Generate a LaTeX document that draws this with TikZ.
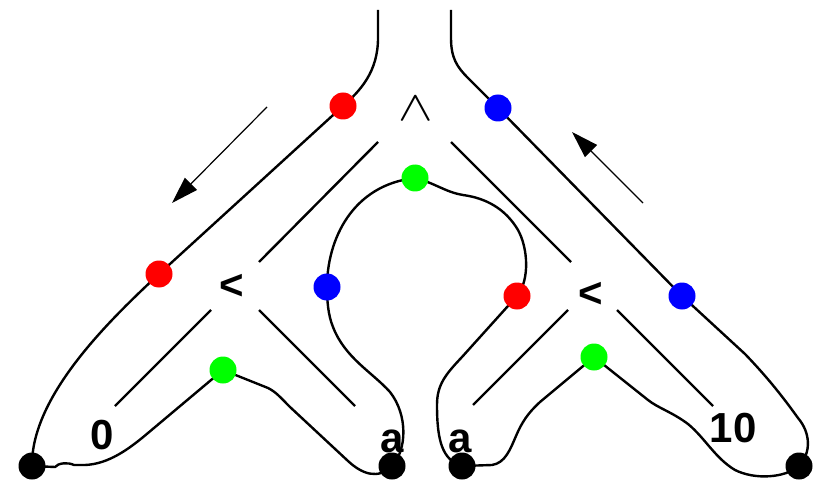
\documentclass[tikz,border=0pt]{standalone}
\usepackage{unicode-math}
\setmainfont{Liberation Sans}
\usetikzlibrary{arrows.meta}
\pgfdeclarelayer{back}
\pgfsetlayers{back,main}
\tikzset{
  wire/.style={line width=2.4pt, line join=round},
  dot/.style={circle, inner sep=0pt, minimum size=27pt, fill=#1},
  lbl/.style={font=\fontsize{42}{42}\selectfont\bfseries, inner sep=0pt},
  flow/.style={line width=1.2pt, -{Triangle[length=27pt,width=17pt]}}
}
\definecolor{dred}{RGB}{255,0,0}
\definecolor{dgreen}{RGB}{0,255,0}
\definecolor{dblue}{RGB}{0,0,255}
\begin{document}
\begin{tikzpicture}[x=1pt,y=-1pt]
\useasboundingbox (0,0) rectangle (816,481);

% open ends at the top
\coordinate (topL) at (378,10);
\coordinate (topR) at (451,10);

% markers along the curve
\node[dot=dred]   (r1) at (343,106) {};
\node[dot=dred]   (r2) at (159,274) {};
\node[dot=dred]   (r3) at (517,296) {};
\node[dot=dblue]  (b1) at (327,287) {};
\node[dot=dblue]  (b2) at (682,296) {};
\node[dot=dblue]  (b3) at (498,108) {};
\node[dot=dgreen] (g1) at (223,370) {};
\node[dot=dgreen] (g2) at (415,178) {};
\node[dot=dgreen] (g3) at (594,357) {};
\node[dot=black]  (k1) at (32,466) {};
\node[dot=black]  (k2) at (392,466) {};
\node[dot=black]  (k3) at (462,466) {};
\node[dot=black]  (k4) at (799,466) {};

\begin{pgfonlayer}{back}
% labels
\node[lbl, anchor=base] (n0)  at (102,449) {0};
\node[lbl, anchor=base] (na1) at (392,452) {a};
\node[lbl, anchor=base] (na2) at (460,452) {a};
\node[lbl, anchor=base] (n10) at (733,442) {10};
\node[lbl] (lt1) at (232,287) {<};
\node[lbl] (lt2) at (591,295) {<};
\node[font=\fontsize{42}{42}\selectfont, inner sep=0pt, xscale=1.3] (top) at (416,108) {$\wedge$};

% the closed-looking boundary curve
\draw[wire] (topL) -- (378,38) .. controls (378,72) and (360,91) .. (r1.center)
  -- (r2.center)
  .. controls (112,318) and (31,395) .. (k1.center)
  -- (55,467) .. controls (58,463) and (68,462) .. (74,465) -- (85,465)
  .. controls (108,464) and (128,450) .. (148,433) -- (g1.center)
  -- (268,388) .. controls (276,392) and (280,397) .. (290,407)
  -- (348,461) .. controls (362,474) and (378,480) .. (k2.center)
  .. controls (407,450) and (408,415) .. (390,392)
  .. controls (372,372) and (345,358) .. (333,327)
  .. controls (328,315) and (327,300) .. (b1.center)
  .. controls (327,240) and (352,185) .. (g2.center)
  .. controls (435,183) and (445,192) .. (463,195)
  .. controls (485,198) and (505,208) .. (518,230)
  .. controls (528,248) and (530,280) .. (r3.center)
  -- (462,357) .. controls (445,375) and (437,385) .. (437,405)
  .. controls (437,440) and (442,460) .. (k3.center)
  -- (492,465) .. controls (505,463) and (510,450) .. (516,436)
  .. controls (522,422) and (528,413) .. (540,402) -- (g3.center)
  -- (648,400) .. controls (658,408) and (672,412) .. (688,424)
  .. controls (705,438) and (715,458) .. (735,470)
  .. controls (755,480) and (785,478) .. (k4.center)
  .. controls (812,452) and (810,432) .. (798,418)
  .. controls (785,400) and (770,380) .. (745,354)
  -- (b2.center) -- (b3.center)
  -- (468,78) .. controls (457,67) and (451,58) .. (451,38) -- (topR);

% inner guide lines
\draw[wire] (378,142) -- (259,262);
\draw[wire] (211,310) -- (115,406);
\draw[wire] (259,310) -- (355,406);
\draw[wire] (451,142) -- (571,262);
\draw[wire] (568,310) -- (473,405);
\draw[wire] (617,310) -- (713,406);

% direction arrows
\draw[flow] (267,107) -- (172,203);
\draw[flow] (643,203) -- (572,132);
\end{pgfonlayer}
\end{tikzpicture}
\end{document}
